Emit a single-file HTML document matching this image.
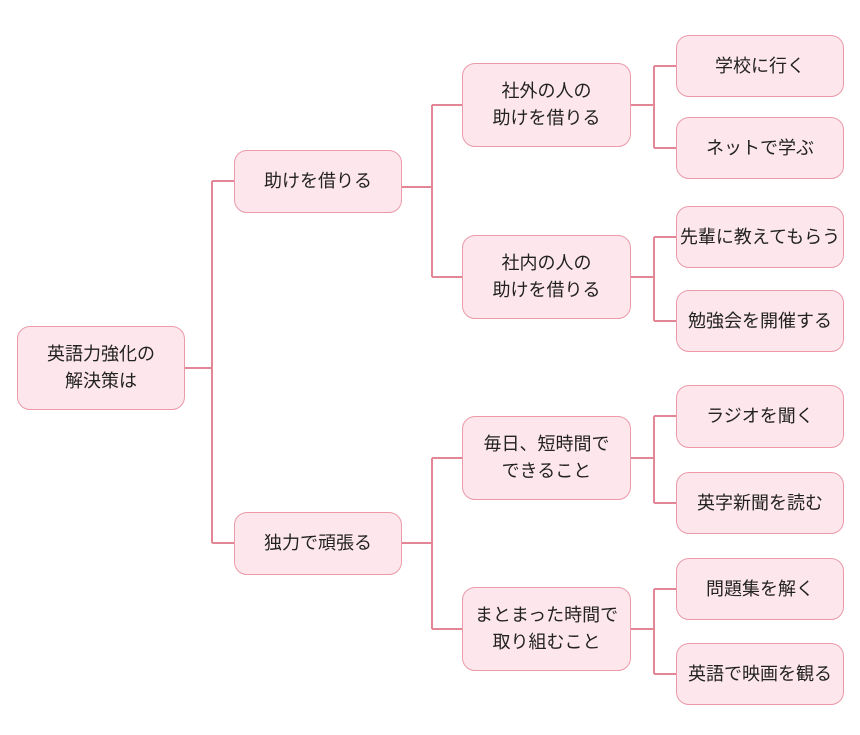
<!DOCTYPE html>
<html><head><meta charset="utf-8"><style>
body{margin:0;width:860px;height:735px;background:#fff;position:relative;overflow:hidden;font-family:"Liberation Sans","Noto Sans CJK JP",sans-serif;}
.b{position:absolute;box-sizing:border-box;background:#fde7ec;border:1.5px solid #eb9aaa;border-radius:13px;display:flex;align-items:center;justify-content:center;text-align:center;font-size:18px;line-height:27px;color:#222;white-space:nowrap;}
svg{position:absolute;left:0;top:0}
</style></head><body>
<svg width="860" height="735"><g stroke="#e38797" stroke-width="2" fill="none">
<path d="M185 368H212M212 181V543M212 181H234M212 543H234"/>
<path d="M402 187H432M432 105V277M432 105H462M432 277H462"/>
<path d="M402 543H432M432 458V629M432 458H462M432 629H462"/>
<path d="M631 105H654M654 66V148M654 66H676M654 148H676"/>
<path d="M631 277H654M654 237V321M654 237H676M654 321H676"/>
<path d="M631 458H654M654 416V503M654 416H676M654 503H676"/>
<path d="M631 629H654M654 589V674M654 589H676M654 674H676"/>
</g></svg>
<div class="b" style="left:17px;top:326px;width:168px;height:84px">英語力強化の<br>解決策は</div>
<div class="b" style="left:234px;top:150px;width:168px;height:63px">助けを借りる</div>
<div class="b" style="left:234px;top:512px;width:168px;height:63px">独力で頑張る</div>
<div class="b" style="left:462px;top:63px;width:169px;height:84px">社外の人の<br>助けを借りる</div>
<div class="b" style="left:462px;top:235px;width:169px;height:84px">社内の人の<br>助けを借りる</div>
<div class="b" style="left:462px;top:416px;width:169px;height:84px">毎日、短時間で<br>できること</div>
<div class="b" style="left:462px;top:587px;width:169px;height:84px">まとまった時間で<br>取り組むこと</div>
<div class="b" style="left:676px;top:35px;width:168px;height:62px">学校に行く</div>
<div class="b" style="left:676px;top:117px;width:168px;height:62px">ネットで学ぶ</div>
<div class="b" style="left:676px;top:206px;width:168px;height:62px">先輩に教えてもらう</div>
<div class="b" style="left:676px;top:290px;width:168px;height:62px">勉強会を開催する</div>
<div class="b" style="left:676px;top:385px;width:168px;height:63px">ラジオを聞く</div>
<div class="b" style="left:676px;top:472px;width:168px;height:62px">英字新聞を読む</div>
<div class="b" style="left:676px;top:558px;width:168px;height:62px">問題集を解く</div>
<div class="b" style="left:676px;top:643px;width:168px;height:62px">英語で映画を観る</div>
</body></html>
